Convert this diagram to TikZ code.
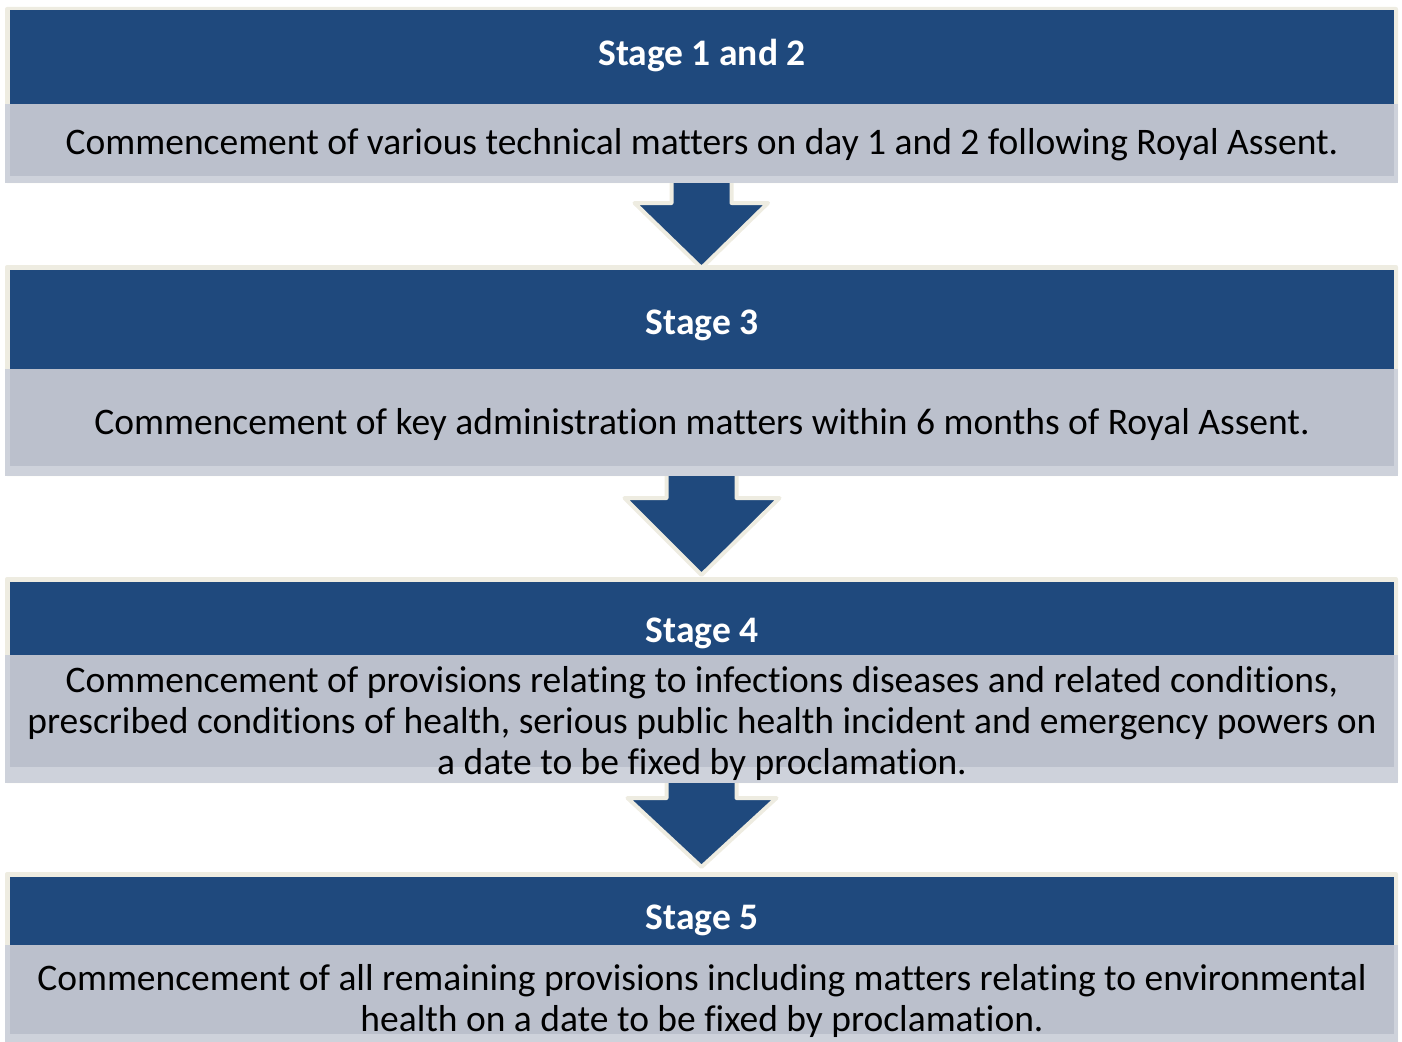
\documentclass[tikz,border=0pt]{standalone}
\usepackage{fontspec}
\setmainfont[Ligatures=CommonOff]{Carlito}
\usetikzlibrary{calc, positioning}
\definecolor{stageblue}{RGB}{31,73,125}
\definecolor{stagegrey}{RGB}{187,192,204}
\definecolor{stageband}{RGB}{206,210,219}
\definecolor{cream}{RGB}{238,236,225}
\begin{document}
\begin{tikzpicture}[x=1pt, y=-1pt,
  frame/.style={fill=cream, rounded corners=2, minimum width=1393, anchor=north, inner sep=0, outer sep=0},
  band/.style={fill=stageband, minimum width=1393, anchor=north, inner sep=0, outer sep=0},
  header/.style={fill=stageblue, minimum width=1384, anchor=north, inner sep=0, outer sep=0},
  body/.style={fill=stagegrey, minimum width=1384, anchor=north, inner sep=0, outer sep=0},
  headtext/.style={text=white, font=\fontsize{37.5}{41}\selectfont\bfseries, inner sep=0},
  bodytext/.style={text=black, font=\fontsize{37.5}{41}\selectfont, align=center, inner sep=0},
  blockarrow/.style={fill=stageblue, draw=cream, line width=4, line join=round}
  ]
  \useasboundingbox (0,0) rectangle (1402,1041);

  % stage 1 and 2
  \node[frame, minimum height=176] (f1) at (701.5,7) {};
  \node[band, minimum height=79] (d1) at (701.5,104) {};
  \node[header, minimum height=94] (h1) at (702,10) {};
  \node[body, minimum height=72, below=0 of h1] (b1) {};
  \node[headtext] (t1) at (702,56) {Stage 1 and 2};
  \node[bodytext] (c1) at (702,145) {Commencement of various technical matters on day 1 and 2 following Royal Assent.};

  % stage 3
  \node[frame, minimum height=211] (f3) at (701.5,265) {};
  \node[band, minimum height=107] (d3) at (701.5,369) {};
  \node[header, minimum height=99] (h3) at (702,270) {};
  \node[body, minimum height=97, below=0 of h3] (b3) {};
  \node[headtext] (t3) at (702,325) {Stage 3};
  \node[bodytext] (c3) at (702,424) {Commencement of key administration matters within 6 months of Royal Assent.};

  % stage 4
  \node[frame, minimum height=206] (f4) at (701.5,577) {};
  \node[band, minimum height=128] (d4) at (701.5,655) {};
  \node[header, minimum height=73] (h4) at (702,582) {};
  \node[body, minimum height=112, below=0 of h4] (b4) {};
  \node[headtext] (t4) at (702,633) {Stage 4};
  \node[bodytext] (c4) at (702,723) {Commencement of provisions relating to infections diseases and related conditions,\\
    prescribed conditions of health, serious public health incident and emergency powers on\\
    a date to be fixed by proclamation.};

  % stage 5
  \node[frame, minimum height=180] (f5) at (701.5,872) {};
  \node[band, minimum height=110] (d5) at (701.5,945) {};
  \node[header, minimum height=68] (h5) at (702,877) {};
  \node[body, minimum height=89, below=0 of h5] (b5) {};
  \node[headtext] (t5) at (702,920) {Stage 5};
  \node[bodytext] (c5) at (702,1000.5) {Commencement of all remaining provisions including matters relating to environmental\\
    health on a date to be fixed by proclamation.};

  % arrows between the stages
  \draw[blockarrow] ([xshift=-30pt]f1.south) -- ++(0,20) -- ++(-37,0) -- ([yshift=-3pt]f3.north)
    -- ++(66.5,-65) -- ++(-36.5,0) -- ([xshift=30pt]f1.south);
  \draw[blockarrow] ([xshift=-35pt]f3.south) -- ++(0,22) -- ++(-42,0) -- ([yshift=2pt]f4.north)
    -- ++(78,-77) -- ++(-43,0) -- ([xshift=35pt]f3.south);
  \draw[blockarrow] ([xshift=-35pt]f4.south) -- ++(0,15) -- ++(-39,0) -- ([yshift=5pt]f5.north)
    -- ++(75,-69) -- ++(-40,0) -- ([xshift=35pt]f4.south);
\end{tikzpicture}
\end{document}
